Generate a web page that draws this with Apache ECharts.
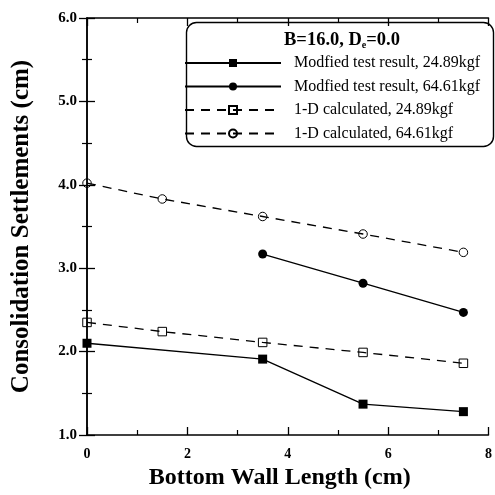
<!DOCTYPE html>
<html>
<head>
<meta charset="utf-8">
<script src="https://cdn.jsdelivr.net/npm/echarts@6/dist/echarts.min.js"></script>
<style>
  html, body { margin: 0; padding: 0; background: #fff; }
  #chart { width: 495px; height: 495px; }
</style>
</head>
<body>
<div id="chart"></div>
<script>
// Bottom wall length (cm) at which settlements were measured / calculated
const testLengths = [0, 3.5, 5.5, 7.5];
const calcLengths = [0, 1.5, 3.5, 5.5, 7.5];

// Consolidation settlements (cm)
const test2489 = [2.10, 1.91, 1.37, 1.28];
const test6461 = [null, 3.17, 2.82, 2.47];
const calc2489 = [2.35, 2.24, 2.11, 1.99, 1.86];
const calc6461 = [4.02, 3.83, 3.62, 3.41, 3.19];

const seriesNames = [
  'Modfied test result, 24.89kgf',
  'Modfied test result, 64.61kgf',
  '1-D calculated, 24.89kgf',
  '1-D calculated, 64.61kgf'
];

const yTicks = ['1.0', '2.0', '3.0', '4.0', '5.0', '6.0'];
const xTicks = ['0', '2', '4', '6', '8'];

const SERIF = '"Liberation Serif", "DejaVu Serif", serif';

function pairs(xs, ys) {
  return xs.map((x, i) => [x, ys[i]]).filter(p => p[1] !== null);
}

const chart = echarts.init(document.getElementById('chart'), null, { renderer: 'canvas' });

const axisCommon = {
  axisLine: { show: true, lineStyle: { color: '#000', width: 1.5 } },
  axisTick: { show: true, inside: true, length: 8, lineStyle: { color: '#000', width: 1.3 } },
  minorTick: { show: true, splitNumber: 2, length: 5, lineStyle: { color: '#000', width: 1.2 } },
  splitLine: { show: false },
  minorSplitLine: { show: false }
};

const solid = (name, data, symbol) => ({
  name, type: 'line', data, symbol, symbolSize: 9,
  itemStyle: { color: '#000' },
  lineStyle: { color: '#000', width: 1.3, type: 'solid' },
  z: 3
});

const dashed = (name, data, symbol) => ({
  name, type: 'line', data, symbol, symbolSize: 8.5,
  itemStyle: { color: 'rgba(255,255,255,0)', borderColor: '#000', borderWidth: 1 },
  lineStyle: { color: '#000', width: 1.3, type: [9, 7] },
  z: 2
});

chart.setOption({
  animation: false,
  backgroundColor: '#fff',
  grid: { left: 87, right: 2, top: 18, bottom: 60 },
  xAxis: [
    Object.assign({
      type: 'value', min: 0, max: 8, interval: 2, position: 'bottom',
      axisLabel: {
        color: '#000', fontFamily: SERIF, fontWeight: 'bold', fontSize: 14, margin: 12,
        formatter: v => xTicks[Math.round(v / 2)]
      },
      name: 'Bottom Wall Length (cm)', nameLocation: 'middle', nameGap: 31,
      nameTextStyle: {
        color: '#000', fontFamily: SERIF, fontWeight: 'bold', fontSize: 24,
        padding: [0, 16, 0, 0]
      }
    }, axisCommon),
    Object.assign({
      type: 'value', min: 0, max: 8, interval: 2, position: 'top',
      axisLabel: { show: false }
    }, axisCommon)
  ],
  yAxis: [
    Object.assign({
      type: 'value', min: 1, max: 6, interval: 1, position: 'left',
      axisLabel: {
        color: '#000', fontFamily: SERIF, fontWeight: 'bold', fontSize: 15, margin: 10,
        formatter: v => yTicks[Math.round(v - 1)]
      },
      name: 'Consolidation Settlements (cm)', nameLocation: 'middle', nameGap: 53,
      nameTextStyle: { color: '#000', fontFamily: SERIF, fontWeight: 'bold', fontSize: 25 }
    }, axisCommon),
    Object.assign({
      type: 'value', min: 1, max: 6, interval: 1, position: 'right',
      axisLabel: { show: false }
    }, axisCommon)
  ],
  title: {
    left: 279, top: 26,
    text: '{a|B=16.0, D}{s|e}{a|=0.0}',
    textStyle: {
      rich: {
        a: { fontFamily: SERIF, fontWeight: 'bold', fontSize: 18.5, color: '#000' },
        s: { fontFamily: SERIF, fontWeight: 'bold', fontSize: 10, color: '#000', verticalAlign: 'bottom', padding: [8, 0, 0, 0] }
      }
    }
  },
  legend: {
    orient: 'vertical', left: 184, top: 55,
    itemWidth: 96, itemHeight: 10, itemGap: 7.5,
    padding: 0,
    textStyle: { fontFamily: SERIF, fontSize: 16, color: '#000', padding: [0, 0, 0, 8] },
    data: seriesNames
  },
  graphic: [{
    type: 'rect', left: 184, top: 20, z: 10, silent: true,
    shape: { width: 307, height: 124, r: 10 },
    style: { fill: 'none', stroke: '#000', lineWidth: 1.4 }
  }],
  series: [
    solid(seriesNames[0], pairs(testLengths, test2489), 'rect'),
    solid(seriesNames[1], pairs(testLengths, test6461), 'circle'),
    dashed(seriesNames[2], pairs(calcLengths, calc2489), 'rect'),
    dashed(seriesNames[3], pairs(calcLengths, calc6461), 'circle')
  ]
});
</script>
</body>
</html>
